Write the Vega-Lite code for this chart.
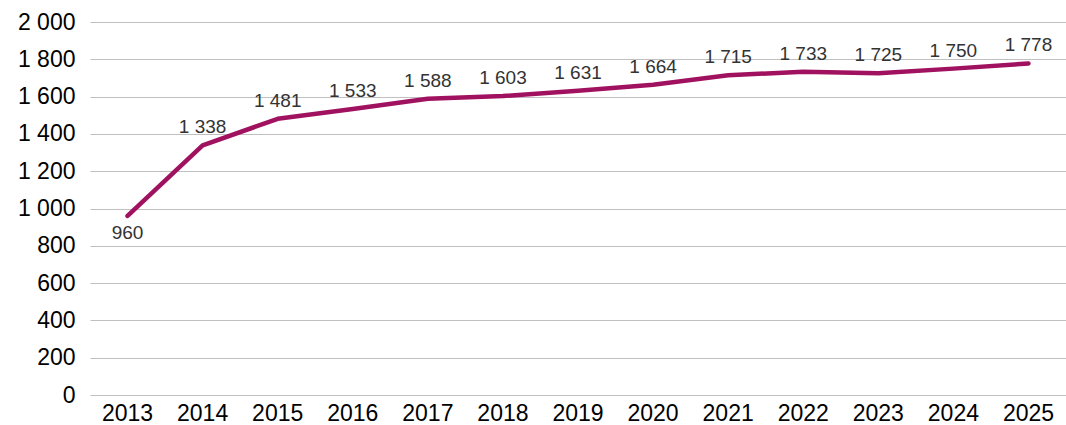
{
  "$schema": "https://vega.github.io/schema/vega-lite/v6.json",
  "width": 976,
  "height": 373,
  "autosize": {"type": "none"},
  "padding": {"left": 90, "top": 22, "right": 0, "bottom": 30},
  "background": "white",
  "config": {
    "view": {"stroke": null},
    "font": "Liberation Sans",
    "locale": {"number": {"decimal": ",", "thousands": " ", "grouping": [3], "currency": ["", ""]}}
  },
  "data": {
    "values": [
      {"year": "2013", "value": 960},
      {"year": "2014", "value": 1338},
      {"year": "2015", "value": 1481},
      {"year": "2016", "value": 1533},
      {"year": "2017", "value": 1588},
      {"year": "2018", "value": 1603},
      {"year": "2019", "value": 1631},
      {"year": "2020", "value": 1664},
      {"year": "2021", "value": 1715},
      {"year": "2022", "value": 1733},
      {"year": "2023", "value": 1725},
      {"year": "2024", "value": 1750},
      {"year": "2025", "value": 1778}
    ]
  },
  "encoding": {
    "x": {
      "field": "year", "type": "ordinal",
      "scale": {"type": "band", "paddingInner": 0, "paddingOuter": 0},
      "axis": {"title": null, "labelAngle": 0, "labelFontSize": 23, "labelColor": "#000", "ticks": false, "domain": false, "labelPadding": 7, "grid": false}
    },
    "y": {
      "field": "value", "type": "quantitative",
      "scale": {"domain": [0, 2000], "nice": false},
      "axis": {"title": null, "values": [0, 200, 400, 600, 800, 1000, 1200, 1400, 1600, 1800, 2000], "format": ",d", "labelFontSize": 23, "labelColor": "#000", "ticks": false, "domain": false, "labelPadding": 15, "grid": true, "gridColor": "#c0c0c0", "gridWidth": 1}
    }
  },
  "layer": [
    {
      "mark": {"type": "line", "color": "#a0125f", "strokeWidth": 4.5, "strokeCap": "round", "strokeJoin": "round"}
    },
    {
      "transform": [{"filter": "datum.value >= 1000"}],
      "mark": {"type": "text", "fontSize": 19, "color": "#333", "baseline": "alphabetic", "dy": -12},
      "encoding": {"text": {"field": "value", "type": "quantitative", "format": ",d"}}
    },
    {
      "transform": [{"filter": "datum.value < 1000"}],
      "mark": {"type": "text", "fontSize": 19, "color": "#333", "baseline": "top", "dy": 8},
      "encoding": {"text": {"field": "value", "type": "quantitative", "format": ",d"}}
    }
  ]
}
